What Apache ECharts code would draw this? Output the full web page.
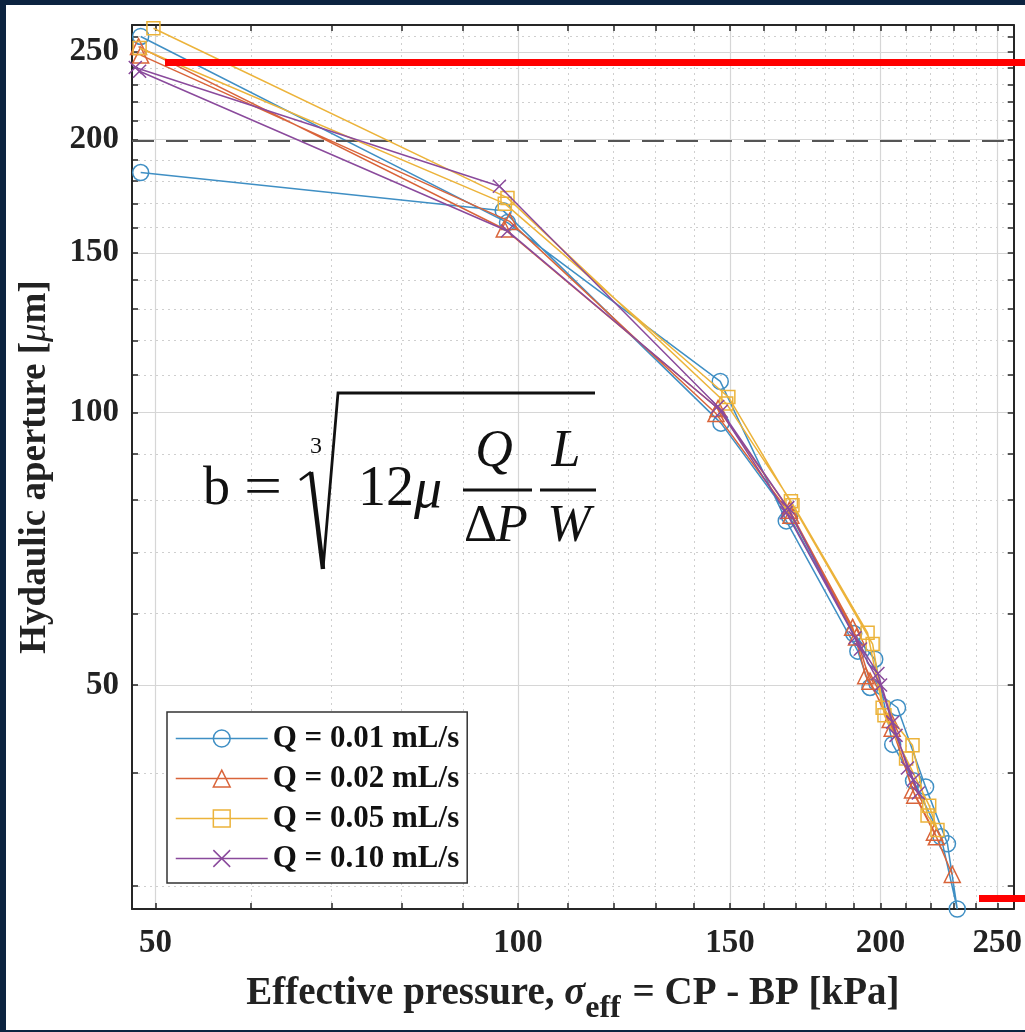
<!DOCTYPE html>
<html>
<head>
<meta charset="utf-8">
<script src="https://cdn.jsdelivr.net/npm/echarts@6/dist/echarts.min.js"></script>
<style>
html,body{margin:0;padding:0;background:#0c2340;width:1025px;height:1032px;overflow:hidden}
#chart{position:absolute;left:6px;top:5px;width:1019px;height:1025px;background:#ffffff}
</style>
</head>
<body>
<div id="chart"></div>
<script>
// ---------------- data ----------------
const seriesNames = ['Q = 0.01 mL/s', 'Q = 0.02 mL/s', 'Q = 0.05 mL/s', 'Q = 0.10 mL/s'];

// effective pressure [kPa] / hydraulic aperture [um]  (loading, then unloading)
const pressureQ001 = [48.6, 98.0, 147.2, 167.0, 191.5, 196.0, 206.6, 218.0, 227.3, 231.6, 224.5, 213.0, 204.7, 197.8, 190.0, 168.0, 147.4, 97.2, 48.6];
const apertureQ001 = [260.0, 162.0, 108.2, 75.9, 54.5, 49.7, 47.2, 38.6, 33.4, 28.3, 34.0, 39.2, 43.0, 53.4, 57.0, 76.8, 97.3, 167.0, 184.0];

const pressureQ002 = [48.4, 97.4, 146.6, 168.0, 189.6, 194.4, 203.7, 212.6, 221.7, 229.4, 222.5, 213.5, 204.5, 196.0, 191.0, 168.5, 146.0, 98.4, 48.6];
const apertureQ002 = [253.4, 159.4, 101.0, 78.0, 57.9, 51.2, 45.8, 38.3, 34.4, 30.9, 34.0, 37.8, 44.8, 50.5, 56.5, 77.0, 99.7, 162.5, 248.0];

const pressureQ005 = [49.8, 98.0, 148.9, 168.5, 195.1, 200.8, 212.6, 218.8, 223.0, 219.5, 210.0, 201.5, 197.0, 169.0, 149.5, 97.5, 48.5];
const apertureQ005 = [265.5, 172.5, 102.3, 79.8, 57.1, 47.2, 42.9, 35.9, 34.6, 36.8, 41.5, 46.3, 55.5, 79.0, 104.0, 170.0, 252.5];

const pressureQ010 = [48.1, 96.5, 146.5, 167.0, 190.5, 199.0, 204.7, 210.6, 215.0, 213.0, 206.0, 200.0, 192.5, 167.5, 147.5, 98.0, 48.5];
const apertureQ010 = [240.3, 177.7, 101.5, 77.5, 56.4, 51.5, 45.5, 40.5, 38.0, 39.3, 44.0, 50.0, 54.8, 78.5, 100.3, 158.6, 238.0];

const xTickLabels = [50, 100, 150, 200, 250];
const xMinorTicks = [50, 60, 70, 80, 90, 100, 110, 120, 130, 140, 150, 160, 170, 180, 190, 200, 210, 220, 230, 240, 250];
const yTickLabels = [50, 100, 150, 200, 250];
const yMinorTicks = [30, 40, 50, 60, 70, 80, 90, 100, 110, 120, 130, 140, 150, 160, 170, 180, 190, 200, 210, 220, 230, 240, 250, 260];
const xRange = [47.8, 258];
const yRange = [28.3, 267.7];
const refAperture = 200;

// ---------------- chart ----------------
const L = v => Math.log10(v);
const fmt = v => String(Math.round(Math.pow(10, v)));
const colors = ['#3f8fc4', '#d9643a', '#ecb33a', '#8a4a9c'];
const symbols = ['circle', 'triangle', 'rect', 'path://M0,0L10,10M10,0L0,10'];
const symbolSizes = [16, 16, 13, 13];
const pressures = [pressureQ001, pressureQ002, pressureQ005, pressureQ010];
const apertures = [apertureQ001, apertureQ002, apertureQ005, apertureQ010];

const AX = '#262626';
const FONT = '"Liberation Serif", "Times New Roman", serif';
const OX = 6, OY = 5; // chart container offset in the page

const series = seriesNames.map((name, k) => ({
  name: name,
  type: 'line',
  xAxisIndex: 0,
  yAxisIndex: 0,
  data: pressures[k].map((p, i) => [L(p), L(apertures[k][i])]),
  symbol: symbols[k],
  symbolSize: symbolSizes[k],
  showAllSymbol: true,
  clip: false,
  lineStyle: { color: colors[k], width: 1.5 },
  itemStyle: { color: 'rgba(255,255,255,0)', borderColor: colors[k], borderWidth: 1.5 },
  emphasis: { disabled: true },
  z: 3 + k
}));

series[0].markLine = {
  silent: true,
  symbol: 'none',
  label: { show: false },
  lineStyle: { color: '#555555', width: 2, type: [22, 12] },
  data: [{ yAxis: L(refAperture) }]
};

const txt = (text, px, py, size, style, align, extra) => Object.assign({
  type: 'text', x: px - OX, y: py - OY, z: 50,
  style: { text: text, fontFamily: FONT, fontSize: size, fontStyle: style || 'normal',
           fill: '#111', align: align || 'left', verticalAlign: 'middle' }
}, extra || {});

const option = {
  animation: false,
  backgroundColor: '#ffffff',
  grid: { left: 126, right: 7, top: 20, bottom: 117 },
  legend: {
    orient: 'vertical',
    left: 161, top: 707,
    itemWidth: 92, itemHeight: 21, itemGap: 9,
    padding: [11, 8, 9, 8],
    backgroundColor: '#ffffff',
    borderColor: '#333333', borderWidth: 1.5, borderRadius: 0,
    selectedMode: false,
    textStyle: { fontFamily: FONT, fontWeight: 'bold', fontSize: 31, color: '#111111' },
    data: seriesNames.map((n, k) => ({
      name: n,
      itemStyle: { color: 'rgba(255,255,255,0)', borderColor: colors[k], borderWidth: 1.5 },
      lineStyle: { color: colors[k], width: 1.5 }
    }))
  },
  xAxis: [
    {
      type: 'value', position: 'bottom',
      min: L(xRange[0]), max: L(xRange[1]),
      axisLine: { show: true, onZero: false, lineStyle: { color: AX, width: 2 } },
      axisTick: { show: true, inside: true, length: 6, customValues: xMinorTicks.map(L), lineStyle: { color: AX, width: 1.5 } },
      axisLabel: { customValues: xTickLabels.map(L), formatter: fmt, margin: 18,
                   fontFamily: FONT, fontWeight: 'bold', fontSize: 33, color: '#222222' },
      splitLine: { show: true, lineStyle: { type: [2, 4], color: '#cfcfcf', width: 1 } },
      name: '{b|Effective pressure, }{i|σ}{s|eff}{b| = CP - BP [kPa]}',
      nameLocation: 'middle', nameGap: 54,
      nameTextStyle: {
        rich: {
          b: { fontFamily: FONT, fontWeight: 'bold', fontSize: 39, color: '#222222' },
          i: { fontFamily: FONT, fontStyle: 'italic', fontWeight: 'bold', fontSize: 39, color: '#222222' },
          s: { fontFamily: FONT, fontWeight: 'bold', fontSize: 32, color: '#222222', padding: [30, 2, 0, 0] }
        }
      }
    },
    {
      type: 'value', position: 'top',
      min: L(xRange[0]), max: L(xRange[1]),
      axisLine: { show: true, onZero: false, lineStyle: { color: AX, width: 2 } },
      axisTick: { show: true, inside: true, length: 6, customValues: xMinorTicks.map(L), lineStyle: { color: AX, width: 1.5 } },
      axisLabel: { show: false },
      splitLine: { show: false }
    },
    {
      type: 'value', position: 'bottom',
      min: L(xRange[0]), max: L(xRange[1]),
      axisLine: { show: false, onZero: false },
      axisTick: { show: false, customValues: xTickLabels.map(L) },
      axisLabel: { show: false },
      splitLine: { show: true, lineStyle: { type: 'solid', color: '#d6d6d6', width: 1.2 } }
    }
  ],
  yAxis: [
    {
      type: 'value', position: 'left',
      min: L(yRange[0]), max: L(yRange[1]),
      axisLine: { show: true, onZero: false, lineStyle: { color: AX, width: 2 } },
      axisTick: { show: true, inside: true, length: 6, customValues: yMinorTicks.map(L), lineStyle: { color: AX, width: 1.5 } },
      axisLabel: { customValues: yTickLabels.map(L), formatter: fmt, margin: 13,
                   fontFamily: FONT, fontWeight: 'bold', fontSize: 33, color: '#222222' },
      splitLine: { show: true, lineStyle: { type: [2, 4], color: '#cfcfcf', width: 1 } },
      name: '{b|Hydaulic aperture [}{i|μ}{b|m]}',
      nameLocation: 'middle', nameGap: 78,
      nameTextStyle: {
        rich: {
          b: { fontFamily: FONT, fontWeight: 'bold', fontSize: 37, color: '#222222' },
          i: { fontFamily: FONT, fontStyle: 'italic', fontSize: 37, color: '#222222' }
        }
      }
    },
    {
      type: 'value', position: 'right',
      min: L(yRange[0]), max: L(yRange[1]),
      axisLine: { show: true, onZero: false, lineStyle: { color: AX, width: 2 } },
      axisTick: { show: true, inside: true, length: 6, customValues: yMinorTicks.map(L), lineStyle: { color: AX, width: 1.5 } },
      axisLabel: { show: false },
      splitLine: { show: false }
    },
    {
      type: 'value', position: 'left',
      min: L(yRange[0]), max: L(yRange[1]),
      axisLine: { show: false, onZero: false },
      axisTick: { show: false, customValues: yTickLabels.map(L) },
      axisLabel: { show: false },
      splitLine: { show: true, lineStyle: { type: 'solid', color: '#d6d6d6', width: 1.2 } }
    }
  ],
  graphic: [
    // formula  b = cuberoot(12 mu Q/dP L/W)
    txt('b', 203, 490, 54),
    txt('=', 244, 490, 54, 'normal', 'left', { scaleX: 1.25 }),
    { type: 'polyline', z: 50, shape: { points: [[300 - OX, 480 - OY], [311 - OX, 472 - OY]] },
      style: { stroke: '#111', lineWidth: 2.5, fill: null } },
    { type: 'line', z: 50, shape: { x1: 311 - OX, y1: 472 - OY, x2: 323 - OX, y2: 569 - OY },
      style: { stroke: '#111', lineWidth: 4.5 } },
    { type: 'polyline', z: 50, shape: { points: [[323 - OX, 569 - OY], [338 - OX, 393 - OY], [595 - OX, 393 - OY]] },
      style: { stroke: '#111', lineWidth: 2.8, fill: null } },
    txt('3', 310, 447, 24),
    txt('12', 358, 490, 56),
    txt('μ', 414, 492, 56, 'italic'),
    txt('Q', 494, 452, 52, 'italic', 'center'),
    { type: 'line', z: 50, shape: { x1: 463 - OX, y1: 490 - OY, x2: 532 - OX, y2: 490 - OY },
      style: { stroke: '#111', lineWidth: 3 } },
    txt('Δ', 464, 527, 52),
    txt('P', 496, 527, 52, 'italic'),
    txt('L', 566, 452, 52, 'italic', 'center'),
    { type: 'line', z: 50, shape: { x1: 540 - OX, y1: 490 - OY, x2: 596 - OX, y2: 490 - OY },
      style: { stroke: '#111', lineWidth: 3 } },
    txt('W', 569, 527, 52, 'italic', 'center'),
    // red highlight bars
    { type: 'rect', z: 100, shape: { x: 165 - OX, y: 59 - OY, width: 1025 - 165, height: 7 }, style: { fill: '#ff0000' } },
    { type: 'rect', z: 100, shape: { x: 979 - OX, y: 895 - OY, width: 1025 - 979, height: 7 }, style: { fill: '#ff0000' } }
  ],
  series: series
};

const chart = echarts.init(document.getElementById('chart'), null, { renderer: 'canvas' });
chart.setOption(option);
</script>
</body>
</html>
